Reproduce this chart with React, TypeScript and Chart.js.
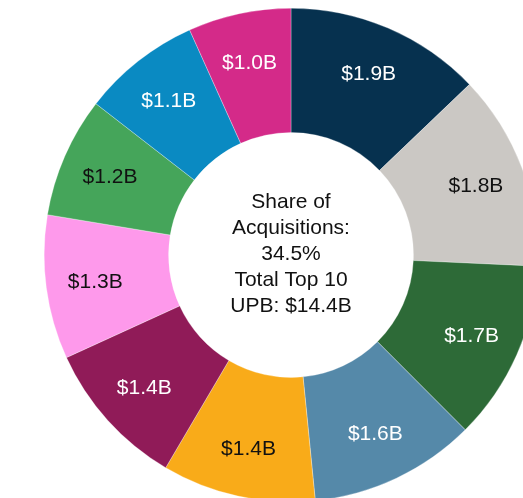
import React, { useEffect, useRef } from "react";
import { Chart, registerables } from "chart.js";

Chart.register(...registerables);

// Top 10 sellers, UPB ($B)
const values: number[] = [1.852, 1.852, 1.7, 1.57, 1.446, 1.398, 1.358, 1.136, 1.118, 0.97];
const valueLabels: string[] = ["$1.9B", "$1.8B", "$1.7B", "$1.6B", "$1.4B", "$1.4B", "$1.3B", "$1.2B", "$1.1B", "$1.0B"];
const sliceColors: string[] = [
  "#06314F", "#CBC8C4", "#2D6A37", "#5589A9", "#F9AB19",
  "#901B58", "#FE99EB", "#45A55A", "#0A8AC2", "#D42A89",
];
const labelColors: string[] = [
  "#FFFFFF", "#111111", "#FFFFFF", "#FFFFFF", "#111111",
  "#FFFFFF", "#111111", "#111111", "#FFFFFF", "#FFFFFF",
];
const centerLines: string[] = ["Share of", "Acquisitions:", "34.5%", "Total Top 10", "UPB: $14.4B"];

const FONT = "Arial, 'Liberation Sans', sans-serif";

const labelPlugin = {
  id: "sliceLabels",
  afterDatasetsDraw(chart: any) {
    const ctx = chart.ctx as CanvasRenderingContext2D;
    const meta = chart.getDatasetMeta(0);
    ctx.save();
    ctx.font = `21px ${FONT}`;
    ctx.textAlign = "center";
    ctx.textBaseline = "middle";
    let cx = 0;
    let cy = 0;
    meta.data.forEach((arc: any, i: number) => {
      const p = arc.getProps(["x", "y", "startAngle", "endAngle", "outerRadius", "innerRadius"], true);
      cx = p.x;
      cy = p.y;
      const mid = (p.startAngle + p.endAngle) / 2;
      const r = p.outerRadius * 0.8;
      ctx.fillStyle = labelColors[i];
      ctx.fillText(valueLabels[i], p.x + Math.cos(mid) * r, p.y + Math.sin(mid) * r + 1);
    });
    ctx.fillStyle = "#111111";
    ctx.font = `21px ${FONT}`;
    const lh = 26;
    const startY = cy - 2 - (lh * (centerLines.length - 1)) / 2;
    centerLines.forEach((t, i) => {
      ctx.fillText(t, cx, startY + i * lh + 1);
    });
    ctx.restore();
  },
};

export default function App() {
  const ref = useRef<HTMLCanvasElement | null>(null);
  useEffect(() => {
    if (!ref.current) return;
    const chart = new Chart(ref.current, {
      type: "doughnut",
      data: {
        labels: valueLabels,
        datasets: [
          {
            data: values,
            backgroundColor: sliceColors,
            borderColor: "#FFFFFF",
            borderWidth: 0.3,
          },
        ],
      },
      options: {
        responsive: false,
        animation: false,
        cutout: "49.6%",
        rotation: 0,
        layout: { padding: 0 },
        plugins: {
          legend: { display: false },
          tooltip: { enabled: false },
        },
      },
      plugins: [labelPlugin],
    });
    return () => chart.destroy();
  }, []);

  return (
    <div
      style={{
        position: "fixed",
        left: 0,
        top: 0,
        width: 523,
        height: 498,
        overflow: "hidden",
        background: "#FFFFFF",
      }}
    >
      <div style={{ position: "absolute", left: 44, top: 8, width: 494, height: 494 }}>
        <canvas ref={ref} width={494} height={494} style={{ width: 494, height: 494 }} />
      </div>
    </div>
  );
}
